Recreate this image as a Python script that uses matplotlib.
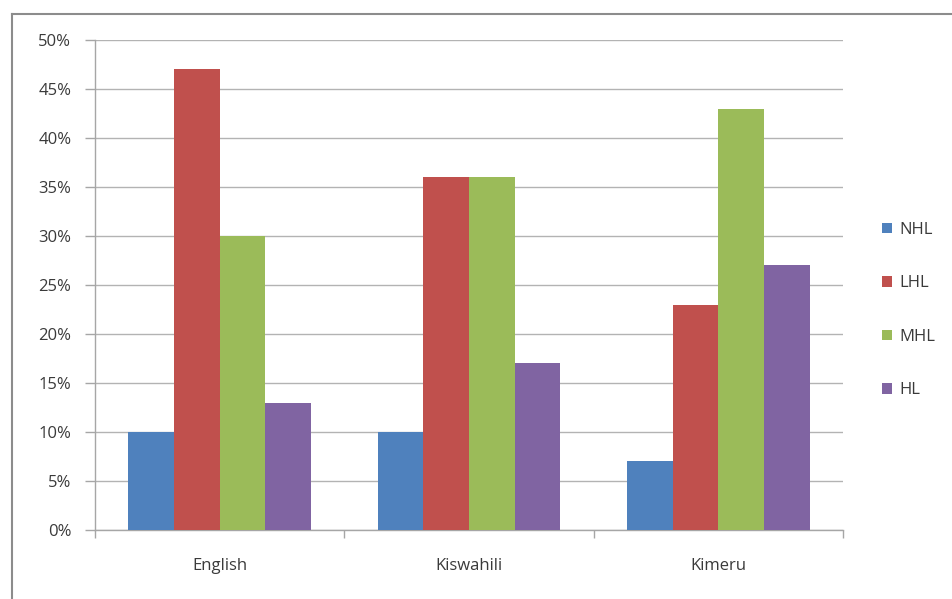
import matplotlib
matplotlib.use("Agg")
import matplotlib.pyplot as plt
from matplotlib.lines import Line2D
from matplotlib.patches import Patch
import numpy as np

categories = ["English", "Kiswahili", "Kimeru"]
series_names = ["NHL", "LHL", "MHL", "HL"]
nhl = [10, 10, 7]
lhl = [47, 36, 23]
mhl = [30, 36, 43]
hl = [13, 17, 27]
yticks = [0, 5, 10, 15, 20, 25, 30, 35, 40, 45, 50]
colors = ["#4F81BD", "#C0504D", "#9BBB59", "#8064A2"]

plt.rcParams['font.family'] = ['Open Sans', 'DejaVu Sans']
FS = 12
TC = '#3a3a3a'

fig = plt.figure(figsize=(9.53, 5.99), dpi=100)
ax = fig.add_axes([95/953, 1-530/599, (843-95)/953, (530-40)/599])

data = [nhl, lhl, mhl, hl]
x = np.arange(len(categories))
bw = 0.183
for i, (vals, c) in enumerate(zip(data, colors)):
    ax.bar(x + (i - 1.5) * bw, vals, width=bw, color=c, label=series_names[i], zorder=3)

ax.set_xlim(-0.5, len(categories) - 0.5)
ax.set_ylim(0, 50)
ax.set_yticks(yticks)
ax.set_yticklabels([f"{t}%" for t in yticks])
ax.grid(axis='y', color='#b3b3b3', lw=1, zorder=0)
ax.set_axisbelow(True)

ax.set_xticks(x)
ax.set_xticklabels(categories)
ax.set_xticks(np.arange(-0.5, len(categories)), minor=True)
ax.tick_params(axis='x', which='major', length=0, pad=20, labelsize=FS, labelcolor=TC)
ax.tick_params(axis='x', which='minor', length=6, width=1, color='#a6a6a6', direction='out')
ax.tick_params(axis='y', length=7, width=1, color='#a6a6a6', pad=10, labelsize=FS, labelcolor=TC)

for s in ['top', 'right']:
    ax.spines[s].set_visible(False)
for s in ['left', 'bottom']:
    ax.spines[s].set_color('#a6a6a6')
    ax.spines[s].set_linewidth(1)

handles = [Patch(facecolor=c, edgecolor='none') for c in colors]
fig.legend(handles, series_names, loc='center left', bbox_to_anchor=(882/953, 1-310/599),
           frameon=False, fontsize=FS, labelcolor=TC, handlelength=0.6, handleheight=0.6,
           handletextpad=0.45, labelspacing=2.25, borderaxespad=0, borderpad=0)

# outer chart border (partly cropped)
fig.add_artist(Line2D([12/953, 1], [1-14/599, 1-14/599], color='#8c8c8c', lw=1.5, transform=fig.transFigure))
fig.add_artist(Line2D([12/953, 12/953], [0, 1-14/599], color='#8c8c8c', lw=1.5, transform=fig.transFigure))

fig.savefig("out.png", dpi=100)
